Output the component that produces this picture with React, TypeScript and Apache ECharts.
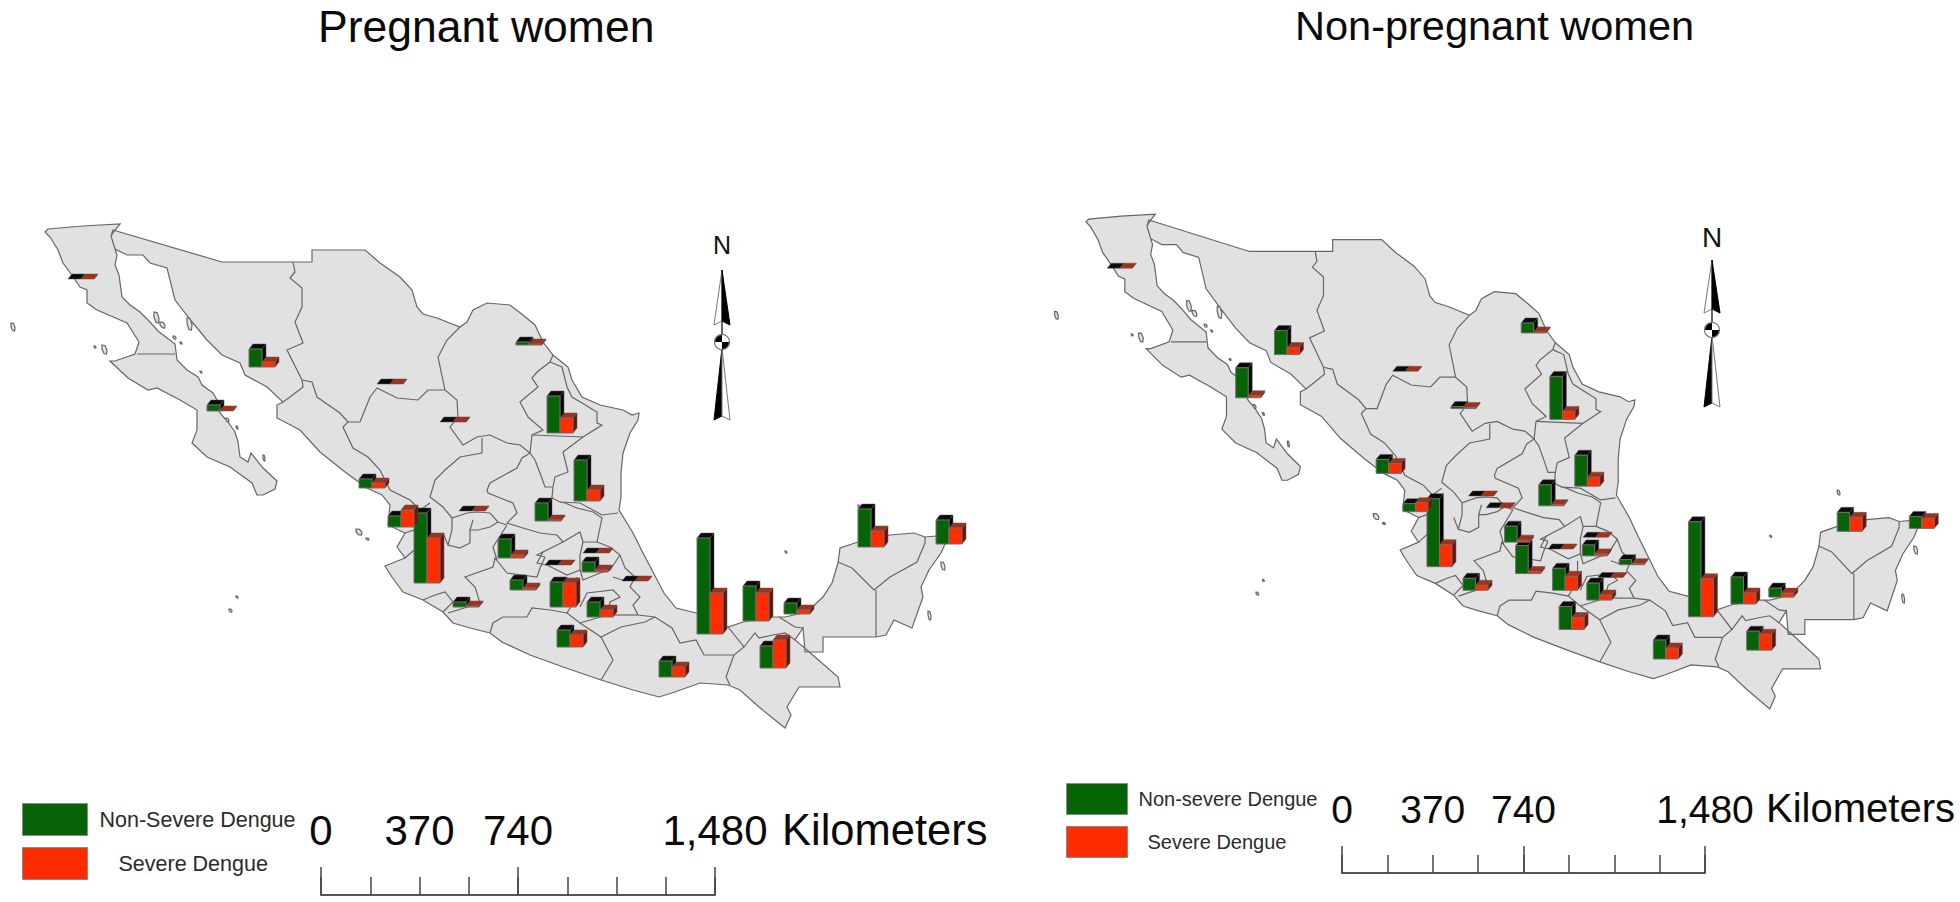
import React, { useEffect, useRef } from "react";
import * as echarts from "echarts";

/* ---------- data ---------- */
const states = ["Baja California","Sonora","Baja California Sur","Chihuahua","Nuevo Leon N","Coahuila","Nuevo Leon","Sinaloa","Nayarit","Jalisco","Durango","Aguascalientes","San Luis Potosi","Tamaulipas","Guanajuato","Queretaro W","Mexico W","Queretaro","Hidalgo","Tlaxcala","Michoacan S","Morelos","Mexico City","Colima","Guerrero","Oaxaca","Veracruz","Tabasco","Campeche","Chiapas","Yucatan","Quintana Roo"];
const anchorLon = [68,249,207,377,516,440,547,359,388,414,459,478,535,574,498,510,545,583,582,622,550,587,599,453,557,659,697,743,784,760,858,936];
const anchorLat = [279,367,411,384,345,422,433,488,527,583,511,523,521,501,558,590,565,553,572,581,607,617,594,607,647,677,634,621,614,668,547,544];
const pregnantNonSevere = [0,18,6,0,3,0,37,9,11,70,0,null,18,41,19,10,0,0,10,0,25,15,null,5,17,16,96,35,11,22,38,24];
const pregnantSevere =    [0,5,0,0,1,0,15,5,17,45,0,null,1,11,3,2,0,0,2,0,24,7,null,1,12,10,41,28,4,28,16,16];
const otherNonSevere =    [0,24,30,0,10,2,43,14,8,68,0,0,21,31,16,28,0,0,11,5,22,17,0,12,23,19,95,27,9,19,19,12];
const otherSevere =       [0,7,2,0,1,1,8,10,9,22,0,0,1,9,2,2,0,0,2,1,14,5,0,5,12,11,38,11,4,16,14,10];
const scaleTicks = [0, 370, 740, 1480];

/* ---------- map geometry (traced outlines) ---------- */
const baja = [[45,232],[48,229],[83,226],[120,224],[115,230],[111,236],[115,249],[117,255],[115,265],[119,275],[122,297],[130,305],[140,312],[150,322],[158,331],[175,344],[177,360],[187,370],[198,377],[202,385],[213,393],[217,400],[220,413],[228,422],[235,432],[238,442],[240,457],[248,462],[251,453],[263,468],[277,481],[275,489],[263,495],[257,495],[252,483],[230,467],[207,457],[192,443],[197,430],[197,410],[180,400],[157,388],[148,390],[128,378],[110,361],[115,361],[135,354],[139,342],[127,323],[97,310],[87,303],[87,290],[80,287],[74,278],[63,263],[58,250],[50,237]];
const mainland = [[113,230],[222,262],[312,262],[312,250],[365,250],[380,263],[400,277],[412,290],[417,307],[423,314],[437,318],[460,327],[467,322],[473,310],[487,303],[510,305],[523,315],[535,325],[543,342],[553,355],[568,367],[572,380],[582,397],[600,405],[623,410],[632,415],[639,413],[638,420],[630,433],[623,453],[621,473],[621,497],[619,510],[633,533],[643,553],[664,593],[676,608],[696,613],[728,627],[743,622],[771,617],[785,617],[807,612],[823,597],[832,583],[838,563],[840,548],[858,542],[890,535],[914,533],[925,537],[949,535],[941,553],[929,570],[921,587],[923,597],[912,628],[894,620],[886,635],[876,637],[823,637],[823,652],[805,652],[803,628],[795,640],[807,650],[838,677],[840,687],[799,687],[787,707],[791,715],[785,728],[759,707],[740,690],[728,685],[700,683],[672,693],[659,697],[633,690],[601,680],[566,668],[530,655],[502,642],[490,633],[470,628],[453,623],[443,612],[423,600],[403,592],[392,577],[385,566],[405,558],[397,547],[405,533],[388,525],[390,505],[382,495],[367,488],[345,472],[320,452],[300,430],[277,418],[277,405],[283,402],[267,387],[245,375],[240,363],[222,355],[207,340],[193,323],[175,300],[167,268],[150,263],[143,255],[127,255],[115,249],[111,236]];
// small island outline: a narrow oval leaning north-west to south-east, like the gulf's islands
const blob = (x: number, y: number, w: number, h: number) => [[x,y],[x+w*0.6,y+h*0.05],[x+w,y+h*0.55],[x+w*0.9,y+h],[x+w*0.4,y+h*0.95],[x,y+h*0.45]];
const islands = [blob(11,323,4,8),blob(102,345,5,9),blob(94,346,2,2),blob(154,312,5,11),blob(160,322,5,6),blob(187,318,5,12),blob(173,336,3,3),blob(180,342,2,2),blob(200,371,2,2),blob(226,418,3,4),blob(236,426,2,3),blob(263,455,2,6),blob(356,529,6,6),blob(366,538,3,2),blob(229,609,3,3),blob(236,596,2,2),blob(785,551,2,2),blob(858,505,3,5),blob(941,562,4,8),blob(928,611,3,9)];
const stateBorders = [
  [[137,354],[175,354]],
  [[293,262],[295,272],[290,278],[302,288],[302,307],[295,322],[303,343],[287,350],[302,380],[312,382],[317,397],[340,413],[348,422],[343,427],[353,448],[368,457],[380,470],[390,490],[410,500],[420,510],[430,503]],
  [[283,402],[290,397],[303,387],[302,380]],
  [[348,422],[360,422],[370,397],[377,388],[397,398],[418,400],[428,390],[445,390]],
  [[460,327],[447,340],[438,357],[445,390],[457,400],[458,417],[450,427],[463,445],[477,437],[490,435],[507,443],[520,445],[530,453]],
  [[553,355],[550,362],[537,372],[532,378],[538,387],[520,402],[528,417],[543,430],[532,435],[530,453]],
  [[550,362],[562,367],[567,387],[572,397],[582,403],[597,412],[597,423],[602,425],[583,437],[563,452],[568,472],[555,477],[553,487],[552,498],[560,502],[580,503],[602,515],[618,513]],
  [[532,435],[583,437]],
  [[530,453],[535,460],[540,473],[545,487],[553,487]],
  [[482,438],[482,453],[460,457],[445,470],[435,480],[430,497],[443,507],[452,518],[467,513],[477,512],[490,513],[498,522],[507,525]],
  [[530,453],[522,458],[517,468],[490,483],[487,490],[488,493],[513,503],[517,513],[507,523],[523,528],[540,533],[557,535],[563,542],[580,532],[583,542],[597,542],[602,518],[593,512],[577,508],[565,503],[560,502]],
  [[473,520],[470,530],[478,530],[490,527],[498,522]],
  [[452,518],[452,530],[448,545],[460,548],[470,543],[470,530]],
  [[443,533],[448,545]],
  [[405,558],[420,545],[414,530],[405,533]],
  [[423,600],[435,595],[445,592],[453,602],[443,612]],
  [[448,613],[480,603],[475,587],[465,577],[493,567],[495,558],[507,573],[537,577],[540,568],[545,557]],
  [[507,525],[493,547],[497,560],[495,558]],
  [[490,633],[493,623],[503,617],[527,617],[532,608],[550,610],[567,613],[580,623],[601,637],[621,627],[645,622],[655,617]],
  [[601,680],[613,660],[601,637]],
  [[563,542],[543,552],[537,563],[547,565],[567,575],[580,570],[580,555],[583,542]],
  [[545,557],[537,555],[543,552]],
  [[597,542],[610,547],[620,555],[625,568],[635,577],[630,587],[640,597],[633,605],[638,615],[655,617],[672,628],[680,643],[696,640],[704,655],[734,655],[744,647],[728,627]],
  [[580,570],[583,580],[600,573],[610,570],[620,555]],
  [[577,577],[577,597],[567,613]],
  [[580,607],[587,593],[613,590],[620,597],[610,602],[607,615],[580,623]],
  [[613,577],[622,580],[635,577]],
  [[607,615],[638,615]],
  [[734,655],[726,677],[730,685]],
  [[744,647],[755,633],[759,638],[773,635],[785,633],[795,640]],
  [[779,617],[795,627],[803,628]],
  [[838,562],[852,568],[874,590],[890,577],[917,562],[925,543],[925,537]],
  [[876,590],[876,637]],
];

const allPoints = [...baja, ...mainland, ...islands.flat()];
const xs = allPoints.map((p) => p[0]);
const ys = allPoints.map((p) => p[1]);
const box = { x0: Math.min(...xs), x1: Math.max(...xs), y0: Math.min(...ys), y1: Math.max(...ys) };
const close = (r: number[][]) => [...r, r[0]];

echarts.registerMap("mexico", {
  type: "FeatureCollection",
  features: [
    { type: "Feature", properties: { name: "Mexico" }, geometry: { type: "MultiPolygon", coordinates: [close(baja), close(mainland), ...islands.map(close)].map((r) => [r]) } },
  ],
} as any);

/* ---------- panels ---------- */
const FONT = "Arial, 'Liberation Sans', sans-serif";
const GREEN = "#066306";
const RED = "#ff2c00";

function barRenderer(slot: number, w: number, topColor: string, sideColor: string) {
  const dx = 4, dy = 5;
  return (_p: any, api: any) => {
    const c = api.coord([api.value(0), api.value(1)]);
    const h = api.value(2);
    const x = c[0] + slot * w, y = c[1], t = y - h;
    const fill = api.visual("color");
    const children: any[] = [
      { type: "polygon", shape: { points: [[x + w, y], [x + w + dx, y - dy], [x + w + dx, t - dy], [x + w, t]] }, style: { fill: sideColor, stroke: "#555", lineWidth: 0.5 } },
      { type: "polygon", shape: { points: [[x, t], [x + dx, t - dy], [x + w + dx, t - dy], [x + w, t]] }, style: { fill: topColor, stroke: "#555", lineWidth: 0.5 } },
    ];
    if (h > 0) children.push({ type: "rect", shape: { x, y: t, width: w, height: h }, style: { fill, stroke: "#6f6f6f", lineWidth: 1 } });
    return { type: "group", children };
  };
}

const rows = (vals: (number | null)[]) =>
  vals.map((v, i) => [anchorLon[i], anchorLat[i], v, states[i]]).filter((r) => r[2] !== null);

function panelSeries(geoIndex: number, w: number, nonName: string, nonVals: any[], sevVals: any[]) {
  return [
    { type: "lines", coordinateSystem: "geo", geoIndex, polyline: true, silent: true, z: 2,
      data: stateBorders.map((coords) => ({ coords })), lineStyle: { color: "#666", width: 1.2, opacity: 1 } },
    { type: "custom", name: nonName, coordinateSystem: "geo", geoIndex, z: 3, silent: true, clip: false,
      itemStyle: { color: GREEN }, data: rows(nonVals), renderItem: barRenderer(0, w, "#0a0a0a", "#050505") },
    { type: "custom", name: "Severe Dengue", coordinateSystem: "geo", geoIndex, z: 4, silent: true, clip: false,
      itemStyle: { color: RED }, data: rows(sevVals), renderItem: barRenderer(1, w, "#a5301a", "#6d140a") },
  ];
}

function geoPanel(ox: number, oy: number, sx: number, sy: number) {
  return {
    map: "mexico", silent: true, roam: false,
    projection: { project: (p: number[]) => [p[0] * sx, p[1] * sy], unproject: (p: number[]) => [p[0] / sx, p[1] / sy] },
    left: ox + (box.x0 - 45) * sx, top: oy + (box.y0 - 232) * sy,
    width: (box.x1 - box.x0) * sx, height: (box.y1 - box.y0) * sy,
    label: { show: false }, emphasis: { disabled: true },
    itemStyle: { areaColor: "#e1e1e1", borderColor: "#666", borderWidth: 1.2 },
  };
}

function scaleAxes(gridIndex: number, fontSize: number, margin: number, major: number, minor: number) {
  const line = { lineStyle: { color: "#444", width: 1.5 } };
  return [
    { type: "value", gridIndex, min: 0, max: 1480, interval: 185, position: "bottom",
      axisLine: { show: true, lineStyle: { color: "#555", width: 2 } }, axisTick: { show: true, inside: true, length: minor, ...line },
      splitLine: { show: false },
      axisLabel: { inside: true, margin, interval: 0, fontFamily: FONT, fontSize, color: "#0a0a0a",
        formatter: (v: number) => (scaleTicks.includes(v) ? v.toLocaleString("en-US") : "") } },
    { type: "value", gridIndex, min: 0, max: 1480, interval: 740, position: "bottom",
      axisLine: { show: false }, axisTick: { show: true, inside: true, length: major, ...line },
      splitLine: { show: false }, axisLabel: { show: false } },
  ];
}

function northArrow(cx: number, tip: number, upBase: number, circY: number, lowBase: number, halfW: number, nY: number, nSize: number) {
  const thin = { stroke: "#777", lineWidth: 1 };
  return [
    { type: "text", style: { x: cx, y: nY, text: "N", fontFamily: FONT, fontSize: nSize, fill: "#111", align: "center", verticalAlign: "middle" } },
    { type: "polygon", shape: { points: [[cx, tip], [cx - halfW, upBase], [cx, upBase - 4]] }, style: { fill: "#fff", ...thin } },
    { type: "polygon", shape: { points: [[cx, tip], [cx + halfW, upBase], [cx, upBase - 4]] }, style: { fill: "#000", stroke: "#000", lineWidth: 1 } },
    { type: "line", shape: { x1: cx, y1: upBase - 4, x2: cx, y2: circY }, style: { stroke: "#333", lineWidth: 1.5 } },
    { type: "polygon", shape: { points: [[cx, circY + 6], [cx - halfW, lowBase], [cx, lowBase - 4]] }, style: { fill: "#000", stroke: "#000", lineWidth: 1 } },
    { type: "polygon", shape: { points: [[cx, circY + 6], [cx + halfW, lowBase], [cx, lowBase - 4]] }, style: { fill: "#fff", ...thin } },
    { type: "circle", shape: { cx, cy: circY, r: 7.5 }, style: { fill: "#fff", stroke: "#777", lineWidth: 1.2 } },
    { type: "sector", shape: { cx, cy: circY, r: 7, r0: 0, startAngle: Math.PI, endAngle: Math.PI * 1.5 }, style: { fill: "#000" } },
    { type: "sector", shape: { cx, cy: circY, r: 7, r0: 0, startAngle: 0, endAngle: Math.PI * 0.5 }, style: { fill: "#000" } },
  ];
}

function legendFor(left: number, top: number, fontSize: number, nonName: string, pad: number, indent: number, gap: number, w: number, h: number) {
  const text = { fontFamily: FONT, fontSize, color: "#2b2b2b" };
  return {
    orient: "vertical", left, top, padding: 0, itemWidth: w, itemHeight: h, itemGap: gap, icon: "rect", selectedMode: false,
    itemStyle: { borderColor: "#8a8a8a", borderWidth: 1 },
    textStyle: text,
    data: [
      { name: nonName, textStyle: { ...text, padding: [0, 0, 0, pad] } },
      { name: "Severe Dengue", textStyle: { ...text, padding: [0, 0, 0, indent] } },
    ],
  };
}

const option: any = {
  animation: false,
  backgroundColor: "#fff",
  title: [
    { text: "Pregnant women", left: 318, top: 4, padding: 0, textStyle: { fontFamily: FONT, fontWeight: "normal", fontSize: 44.5, color: "#0a0a0a" } },
    { text: "Non-pregnant women", left: 1295, top: 4, padding: 0, textStyle: { fontFamily: FONT, fontWeight: "normal", fontSize: 41.5, color: "#0a0a0a" } },
  ],
  geo: [geoPanel(45, 232, 1, 1), geoPanel(1086, 222, 0.924, 0.982)],
  grid: [
    { left: 321, width: 394, top: 855, height: 40 },
    { left: 1342, width: 363, top: 833, height: 40 },
  ],
  xAxis: [...scaleAxes(0, 42, 44, 28, 18), ...scaleAxes(1, 39, 44, 27, 18)],
  yAxis: [{ gridIndex: 0, show: false }, { gridIndex: 0, show: false }, { gridIndex: 1, show: false }, { gridIndex: 1, show: false }],
  legend: [
    legendFor(22, 803, 21.5, "Non-Severe Dengue", 7, 26, 11, 65, 32),
    legendFor(1066, 783, 20, "Non-severe Dengue", 6, 15, 11, 61, 31),
  ],
  series: [
    ...panelSeries(0, 13, "Non-Severe Dengue", pregnantNonSevere, pregnantSevere),
    ...panelSeries(1, 12.5, "Non-severe Dengue", otherNonSevere, otherSevere),
  ],
  graphic: [
    ...northArrow(722, 270, 325, 342, 420, 8, 245, 25),
    ...northArrow(1712, 260, 313, 330, 407, 8, 237, 28),
    { type: "text", style: { x: 782, y: 830, text: "Kilometers", fontFamily: FONT, fontSize: 43.5, fill: "#0a0a0a", verticalAlign: "middle" } },
    { type: "text", style: { x: 1766, y: 808, text: "Kilometers", fontFamily: FONT, fontSize: 40, fill: "#0a0a0a", verticalAlign: "middle" } },
  ],
};

export default function App() {
  const ref = useRef<HTMLDivElement>(null);
  useEffect(() => {
    document.body.style.margin = "0";
    const chart = echarts.init(ref.current!, undefined, { renderer: "svg" });
    chart.setOption(option);
    return () => chart.dispose();
  }, []);
  return <div ref={ref} style={{ width: 1960, height: 902 }} />;
}
